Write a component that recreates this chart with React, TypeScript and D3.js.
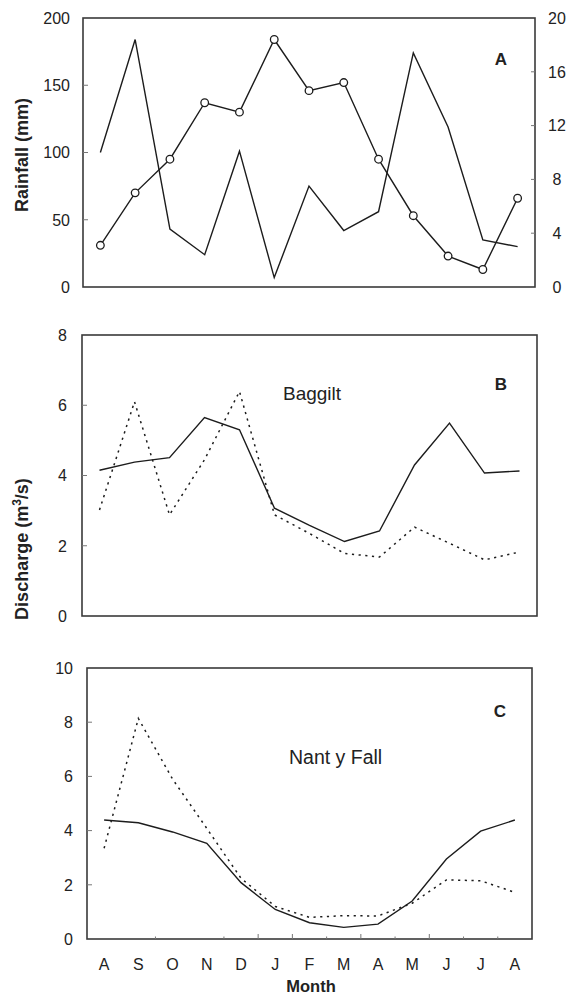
import React from "react";
import * as d3 from "d3";

// Month initials, August to August
const months = ["A", "S", "O", "N", "D", "J", "F", "M", "A", "M", "J", "J", "A"];

// Panel A: monthly rainfall (left axis) and temperature (right axis, open circles)
const rainfall = [100, 184, 43, 24, 101, 7, 75, 42, 56, 174, 119, 35, 30];
const temperature = [3.1, 7.0, 9.5, 13.7, 13.0, 18.4, 14.6, 15.2, 9.5, 5.3, 2.3, 1.3, 6.6];
const rainTicks = [0, 50, 100, 150, 200];
const tempTicks = [0, 4, 8, 12, 16, 20];

// Panel B: Baggilt discharge
const baggiltSolid = [4.15, 4.38, 4.51, 5.65, 5.3, 3.07, 2.58, 2.12, 2.42, 4.3, 5.49, 4.07, 4.13];
const baggiltDotted = [3.02, 6.1, 2.88, 4.45, 6.39, 2.88, 2.35, 1.78, 1.68, 2.53, 2.07, 1.6, 1.82];
const baggiltTicks = [0, 2, 4, 6, 8];

// Panel C: Nant y Fall discharge
const nantSolid = [4.39, 4.29, 3.95, 3.53, 2.08, 1.09, 0.6, 0.43, 0.55, 1.4, 2.95, 3.98, 4.39];
const nantDotted = [3.35, 8.14, 5.9, 4.08, 2.24, 1.2, 0.8, 0.86, 0.85, 1.32, 2.18, 2.15, 1.72];
const nantTicks = [0, 2, 4, 6, 8, 10];

const FONT = "'Liberation Sans', Arial, Helvetica, sans-serif";
const LINE = "#1c1c1c";
const FRAME = "#3a3a3a";

type Box = { left: number; right: number; top: number; bottom: number };

const idx = months.map((_, i) => i);

function bandX(box: Box) {
  return d3.scaleBand<number>().domain(idx).range([box.left, box.right]).padding(0);
}
function centre(x: d3.ScaleBand<number>, i: number) {
  return (x(i) as number) + x.bandwidth() / 2;
}

function seriesPath(
  x: d3.ScaleBand<number>,
  y: d3.ScaleLinear<number, number>,
  values: number[]
) {
  return (
    d3
      .line<number>()
      .x((_, i) => centre(x, i))
      .y((v) => y(v))(values) || ""
  );
}

function Frame({ box }: { box: Box }) {
  return (
    <rect
      x={box.left}
      y={box.top}
      width={box.right - box.left}
      height={box.bottom - box.top}
      fill="none"
      stroke={FRAME}
      strokeWidth={1.6}
    />
  );
}

function LeftAxis({
  box,
  y,
  ticks,
  labelX,
}: {
  box: Box;
  y: d3.ScaleLinear<number, number>;
  ticks: number[];
  labelX: number;
}) {
  return (
    <g>
      {ticks.map((t) => (
        <g key={t}>
          {t !== ticks[0] && t !== ticks[ticks.length - 1] && (
            <line x1={box.left} x2={box.left + 5} y1={y(t)} y2={y(t)} stroke="#777" strokeWidth={1} />
          )}
          <text
            x={labelX}
            y={y(t)}
            dy="0.36em"
            textAnchor="end"
            fontFamily={FONT}
            fontSize={16}
            fill="#222"
          >
            {t}
          </text>
        </g>
      ))}
    </g>
  );
}

function PanelLetter({ x, y, text }: { x: number; y: number; text: string }) {
  return (
    <text x={x} y={y} textAnchor="middle" fontFamily={FONT} fontWeight="bold" fontSize={17} fill="#222">
      {text}
    </text>
  );
}

export default function App() {
  // Panel A
  const boxA: Box = { left: 83, right: 535, top: 18, bottom: 287 };
  const xA = bandX(boxA);
  const yRain = d3.scaleLinear().domain([0, 200]).range([boxA.bottom, boxA.top]);
  const yTemp = d3.scaleLinear().domain([0, 20]).range([boxA.bottom, boxA.top]);

  // Panel B
  const boxB: Box = { left: 82, right: 537, top: 335, bottom: 616 };
  const xB = bandX(boxB);
  const yB = d3.scaleLinear().domain([0, 8]).range([boxB.bottom, boxB.top]);

  // Panel C
  const boxC: Box = { left: 87, right: 532, top: 668, bottom: 939 };
  const xC = bandX(boxC);
  const yC = d3.scaleLinear().domain([0, 10]).range([boxC.bottom, boxC.top]);

  // Month boundary ticks along the bottom of panel C (length per boundary)
  const boundaryTicks: { k: number; len: number }[] = [
    { k: 2, len: 2.5 },
    { k: 4, len: 2.5 },
    { k: 5, len: 5 },
    { k: 6, len: 5 },
    { k: 7, len: 2.5 },
    { k: 8, len: 5 },
    { k: 9, len: 2.5 },
    { k: 10, len: 5 },
    { k: 11, len: 2.5 },
    { k: 12, len: 2.5 },
  ];

  const dotted = "2.2,4.5";

  return (
    <svg
      width={571}
      height={995}
      viewBox="0 0 571 995"
      style={{ position: "absolute", left: 0, top: 0, background: "#fff" }}
    >
      <rect x={0} y={0} width={571} height={995} fill="#fff" />

      {/* ---------- Panel A ---------- */}
      <Frame box={boxA} />
      <LeftAxis box={boxA} y={yRain} ticks={rainTicks} labelX={70} />
      {tempTicks.map((t) => (
        <g key={"rt" + t}>
          {t !== 0 && t !== 20 && (
            <line x1={boxA.right - 4} x2={boxA.right} y1={yTemp(t)} y2={yTemp(t)} stroke="#777" strokeWidth={1} />
          )}
          <text
            x={557}
            y={yTemp(t)}
            dy="0.36em"
            textAnchor="middle"
            fontFamily={FONT}
            fontSize={16}
            fill="#222"
          >
            {t}
          </text>
        </g>
      ))}
      <path d={seriesPath(xA, yRain, rainfall)} fill="none" stroke={LINE} strokeWidth={1.4} strokeLinejoin="miter" />
      <path d={seriesPath(xA, yTemp, temperature)} fill="none" stroke={LINE} strokeWidth={1.4} />
      {temperature.map((v, i) => (
        <circle key={"c" + i} cx={centre(xA, i)} cy={yTemp(v)} r={3.8} fill="#fff" stroke={LINE} strokeWidth={1.3} />
      ))}
      <PanelLetter x={501} y={65} text="A" />
      <text
        transform="translate(28,155) rotate(-90)"
        textAnchor="middle"
        fontFamily={FONT}
        fontWeight="bold"
        fontSize={18}
        fill="#222"
      >
        Rainfall (mm)
      </text>

      {/* ---------- Panel B ---------- */}
      <Frame box={boxB} />
      <LeftAxis box={boxB} y={yB} ticks={baggiltTicks} labelX={67} />
      <path d={seriesPath(xB, yB, baggiltDotted)} fill="none" stroke={LINE} strokeWidth={1.5} strokeDasharray={dotted} />
      <path d={seriesPath(xB, yB, baggiltSolid)} fill="none" stroke={LINE} strokeWidth={1.4} />
      <text x={283} y={400} fontFamily={FONT} fontSize={19} fill="#222">
        Baggilt
      </text>
      <PanelLetter x={501} y={390} text="B" />
      <text
        transform="translate(28,549) rotate(-90)"
        textAnchor="middle"
        fontFamily={FONT}
        fontWeight="bold"
        fontSize={18}
        fill="#222"
      >
        Discharge (m
        <tspan fontSize={12} dy={-7}>
          3
        </tspan>
        <tspan dy={7}>/s)</tspan>
      </text>

      {/* ---------- Panel C ---------- */}
      <Frame box={boxC} />
      <LeftAxis box={boxC} y={yC} ticks={nantTicks} labelX={73} />
      {boundaryTicks.map(({ k, len }) => {
        const bx = boxC.left + k * xC.step();
        return <line key={"bt" + k} x1={bx} x2={bx} y1={boxC.bottom} y2={boxC.bottom - len} stroke="#777" strokeWidth={1} />;
      })}
      <path d={seriesPath(xC, yC, nantDotted)} fill="none" stroke={LINE} strokeWidth={1.5} strokeDasharray={dotted} />
      <path d={seriesPath(xC, yC, nantSolid)} fill="none" stroke={LINE} strokeWidth={1.4} />
      <text x={289} y={764} fontFamily={FONT} fontSize={19.5} fill="#222">
        Nant y Fall
      </text>
      <PanelLetter x={500} y={717} text="C" />

      {months.map((m, i) => (
        <text
          key={"m" + i}
          x={centre(xC, i)}
          y={970}
          textAnchor="middle"
          fontFamily={FONT}
          fontSize={16}
          fill="#222"
        >
          {m}
        </text>
      ))}
      <text x={311} y={992} textAnchor="middle" fontFamily={FONT} fontWeight="bold" fontSize={16.5} fill="#222">
        Month
      </text>
    </svg>
  );
}
